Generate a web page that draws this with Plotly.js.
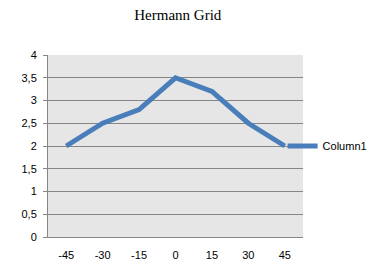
<!DOCTYPE html>
<html><head><meta charset="utf-8">
<script src="https://cdn.plot.ly/plotly-3.0.1.min.js"></script>
<style>html,body{margin:0;padding:0;background:#fff}#c{width:372px;height:269px}</style>
</head><body><div id="c"></div>
<script>
const categories = ["-45","-30","-15","0","15","30","45"];
const column1 = [2, 2.5, 2.8, 3.5, 3.2, 2.5, 2.0];
const seriesName = "Column1";
const chartTitle = "Hermann Grid";

const trace = {
  x: categories, y: column1, name: seriesName, type: "scatter", mode: "lines",
  line: {color: "#4a7ebb", width: 5}
};
const layout = {
  width: 372, height: 269,
  margin: {l: 48, r: 69, t: 55, b: 32, autoexpand: false},
  paper_bgcolor: "#ffffff", plot_bgcolor: "#e6e6e6",
  separators: ",.",
  title: {text: chartTitle, x: 0.478, xanchor: "center", y: 0.945, yanchor: "middle",
          font: {family: "Liberation Serif, Times New Roman, serif", size: 15, color: "#000"}},
  font: {family: "Liberation Sans, Arial, sans-serif", size: 11, color: "#000"},
  xaxis: {type: "category", range: [-0.5, 6.5], showgrid: false, zeroline: false,
          showline: true, linecolor: "#868686", linewidth: 1, ticks: "", ticklen: 0,
          ticklabelstandoff: 8, tickfont: {size: 11}, fixedrange: true},
  yaxis: {range: [0, 4], dtick: 0.5, tick0: 0, showgrid: true, gridcolor: "#868686", gridwidth: 1,
          zeroline: false, showline: true, linecolor: "#868686", linewidth: 1,
          ticks: "outside", ticklen: 4, tickcolor: "#868686", ticklabelstandoff: 4,
          tickfont: {size: 11}, fixedrange: true},
  showlegend: true,
  legend: {x: 0.92, xanchor: "left", y: 0.5, yanchor: "middle", bgcolor: "rgba(0,0,0,0)",
           font: {size: 11}, borderwidth: 0}
};
Plotly.newPlot("c", [trace], layout, {displayModeBar: false, staticPlot: true});
</script></body></html>
